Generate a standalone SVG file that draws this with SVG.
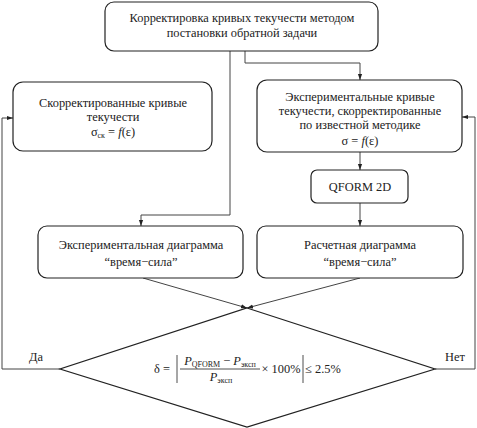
<svg xmlns="http://www.w3.org/2000/svg" width="477" height="428" viewBox="0 0 477 428">
<defs>
<marker id="ah" viewBox="0 0 10 10" refX="10" refY="5" markerWidth="6" markerHeight="6" orient="auto" markerUnits="userSpaceOnUse"><path d="M0,1.5 L10,5 L0,8.5 Z" fill="#222"/></marker>
<style>
.box{fill:#fff;stroke:#222;stroke-width:1.2}
.ln{fill:none;stroke:#444;stroke-width:1}
text{font-family:"Liberation Serif","Times New Roman",serif;font-size:12.4px;fill:#222;text-anchor:middle}
.it{font-style:italic}
</style>
</defs>
<rect width="477" height="428" fill="#fff"/>
<g id="connectors">
<path class="ln" d="M230,51 V215 H141 V226" marker-end="url(#ah)"/>
<path class="ln" d="M245,51 V63 H360 V80" marker-end="url(#ah)"/>
<path class="ln" d="M360,152 V170" marker-end="url(#ah)"/>
<path class="ln" d="M360,203 V226" marker-end="url(#ah)"/>
<path class="ln" d="M143,278 L247,308" marker-end="url(#ah)"/>
<path class="ln" d="M360,278 L247,308" marker-end="url(#ah)"/>
<path class="ln" d="M60,369 H2 V118 H13" marker-end="url(#ah)"/>
<path class="ln" d="M435,369 H475 V117 H462" marker-end="url(#ah)"/>
</g>
<g id="n_top">
<rect class="box" x="105" y="2" width="273" height="49" rx="9"/>
<text x="242" y="22">Корректировка кривых текучести методом</text>
<text x="242" y="37">постановки обратной задачи</text>
</g>
<g id="n_corr">
<rect class="box" x="13" y="82" width="199" height="69" rx="10"/>
<text x="113" y="107">Скорректированные кривые</text>
<text x="113" y="121">текучести</text>
<text x="113" y="136">σ<tspan font-size="8" dy="2">ск</tspan><tspan dy="-2"> = </tspan><tspan class="it">f</tspan>(ε)</text>
</g>
<g id="n_exp">
<rect class="box" x="257" y="80" width="205" height="72" rx="10"/>
<text x="360" y="101">Экспериментальные кривые</text>
<text x="360" y="115">текучести, скорректированные</text>
<text x="360" y="129">по известной методике</text>
<text x="360" y="145">σ = <tspan class="it">f</tspan>(ε)</text>
</g>
<g id="n_qform">
<rect class="box" x="311" y="170" width="97" height="33" rx="6"/>
<text x="360" y="191">QFORM 2D</text>
</g>
<g id="n_expdiag">
<rect class="box" x="38" y="226" width="205" height="52" rx="9"/>
<text x="141" y="249">Экспериментальная диаграмма</text>
<text x="141" y="266">“время−сила”</text>
</g>
<g id="n_calcdiag">
<rect class="box" x="257" y="226" width="206" height="52" rx="9"/>
<text x="360" y="249">Расчетная диаграмма</text>
<text x="360" y="266">“время−сила”</text>
</g>
<g id="n_decision">
<path class="box" d="M247,308 L435,369 L247,427 L60,369 Z"/>
<text x="162" y="373">δ =</text>
<line x1="177" y1="355" x2="177" y2="383" stroke="#222" stroke-width="0.8"/>
<text x="220" y="365"><tspan class="it">P</tspan><tspan font-size="8" dy="2">QFORM</tspan><tspan dy="-2"> − </tspan><tspan class="it">P</tspan><tspan font-size="8" dy="2">эксп</tspan></text>
<line x1="180" y1="369" x2="260" y2="369" stroke="#222" stroke-width="0.8"/>
<text x="221" y="381"><tspan class="it">P</tspan><tspan font-size="8" dy="2">эксп</tspan></text>
<text x="281" y="373">× 100%</text>
<line x1="303" y1="355" x2="303" y2="383" stroke="#222" stroke-width="0.8"/>
<text x="323" y="373">≤ 2.5%</text>
<text x="36" y="361">Да</text>
<text x="455" y="361">Нет</text>
</g>
</svg>
